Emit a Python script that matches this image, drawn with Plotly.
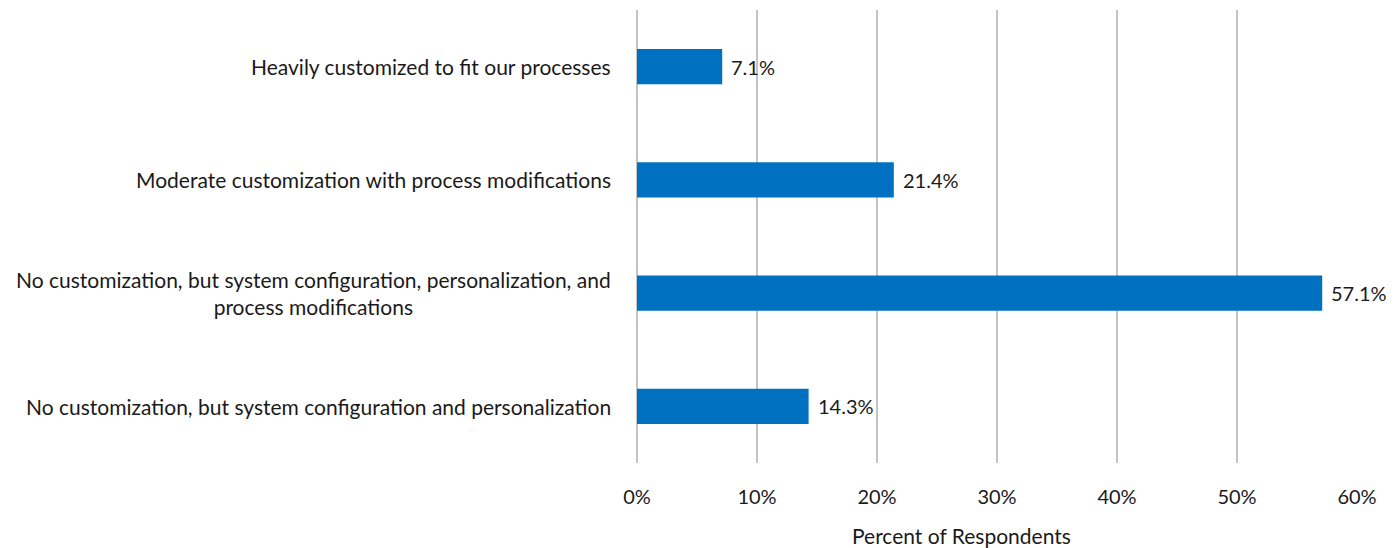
import plotly.graph_objects as go

categories = [
    "No customization, but system configuration and personalization",
    "No customization, but system configuration, personalization, and<br>process modifications",
    "Moderate customization with process modifications",
    "Heavily customized to fit our processes",
]
values = [14.3, 57.1, 21.4, 7.1]
tick_vals = [0, 10, 20, 30, 40, 50, 60]
tick_text = ["0%", "10%", "20%", "30%", "40%", "50%", "60%"]
x_title = "Percent of Respondents"

FONT = "Lato, 'Open Sans', sans-serif"
BLUE = "#0070C0"
TEXT = "#1a1a1a"
SIZE = 21

fig = go.Figure(
    go.Bar(
        x=values,
        y=list(range(len(categories))),
        orientation="h",
        marker=dict(color=BLUE, line=dict(width=0)),
        width=0.31,
        hoverinfo="skip",
    )
)

# value labels to the right of each bar
for i, v in enumerate(values):
    fig.add_annotation(
        x=v, y=i, xref="x", yref="y",
        text=f"{v:.1f}%", showarrow=False,
        xanchor="left", yanchor="middle", xshift=7,
        font=dict(family=FONT, size=SIZE - 1, color=TEXT),
    )

# category labels, centred per line, right edge near the axis
for i, c in enumerate(categories):
    fig.add_annotation(
        x=0, y=i, xref="paper", yref="y",
        text=c, showarrow=False, align="center",
        xanchor="right", yanchor="middle", xshift=-24,
        font=dict(family=FONT, size=SIZE, color=TEXT),
    )

# axis title, set slightly left of the plot centre
fig.add_annotation(
    x=0.45, y=0, xref="paper", yref="paper",
    text=x_title, showarrow=False,
    xanchor="center", yanchor="middle", yshift=-72,
    font=dict(family=FONT, size=SIZE, color=TEXT),
)

fig.update_layout(
    width=1395, height=548,
    margin=dict(l=637, r=38, t=10, b=85),
    paper_bgcolor="white", plot_bgcolor="white",
    showlegend=False,
    font=dict(family=FONT, size=SIZE, color=TEXT),
    xaxis=dict(
        range=[0, 60], tickvals=tick_vals, ticktext=tick_text,
        showgrid=True, gridcolor="#C4C4C4", gridwidth=2,
        zeroline=True, zerolinecolor="#C4C4C4", zerolinewidth=2,
        showline=False,
        ticks="", ticklabelstandoff=20,
        tickfont=dict(family=FONT, size=SIZE - 1, color=TEXT),
        fixedrange=True,
    ),
    yaxis=dict(
        range=[-0.5, 3.5], showticklabels=False, showgrid=False,
        zeroline=False, showline=False, fixedrange=True,
    ),
)

fig.write_html("out.html")
